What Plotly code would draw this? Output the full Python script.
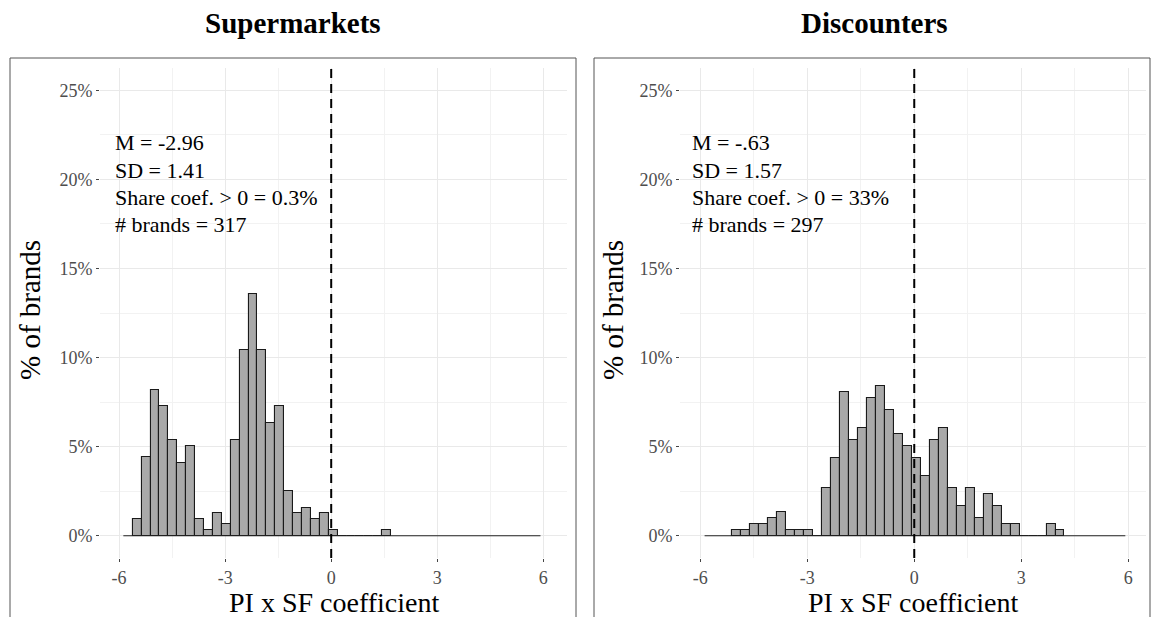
import plotly.graph_objects as go

# ---- data -----------------------------------------------------------------
BIN_WIDTH = 0.252
BIN_ORIGIN = -0.07          # one bin edge; all other edges are spaced BIN_WIDTH apart

# Supermarkets: counts per bin, first bin index -22
super_first_bin = -22
super_counts = [3, 14, 26, 23, 17, 13, 16, 3, 1, 4, 2, 17, 33, 43, 33, 20, 23, 8,
                4, 5, 3, 4, 1, 0, 0, 0, 0, 0, 1]
super_n = 317
super_stats = ["M = -2.96", "SD = 1.41", "Share coef. > 0 = 0.3%", "# brands = 317"]

# Discounters: counts per bin, first bin index -20
disc_first_bin = -20
disc_counts = [1, 1, 2, 2, 3, 4, 1, 1, 1, 0, 8, 13, 24, 16, 18, 23, 25, 21, 17, 15,
               13, 10, 16, 18, 8, 5, 8, 3, 7, 5, 2, 2, 0, 0, 0, 2, 1]
disc_n = 297
disc_stats = ["M = -.63", "SD = 1.57", "Share coef. > 0 = 33%", "# brands = 297"]

panel_titles = ["Supermarkets", "Discounters"]
x_title = "PI x SF coefficient"
y_title = "% of brands"
x_ticks = [-6, -3, 0, 3, 6]
x_tick_text = ["-6", "-3", "0", "3", "6"]
x_minor = [-4.5, -1.5, 1.5, 4.5]
y_ticks = [0, 5, 10, 15, 20, 25]
y_tick_text = ["0%", "5%", "10%", "15%", "20%", "25%"]
y_minor = [2.5, 7.5, 12.5, 17.5, 22.5]
baseline_extent = [-5.88, 5.92]

# ---- geometry (pixels) ----------------------------------------------------
W, H = 1151, 617
FONT = "Liberation Serif"


def px(x):
    return x / W


def py(y):
    return 1 - y / H


panels = [
    dict(counts=super_counts, first=super_first_bin, n=super_n, stats=super_stats,
         plot_x=(100, 567), xrange=[-6.54, 6.67], box=(10, 576), title_x=293,
         ytitle_x=30, stats_x=113),
    dict(counts=disc_counts, first=disc_first_bin, n=disc_n, stats=disc_stats,
         plot_x=(680, 1146), xrange=[-6.57, 6.50], box=(594, 1150), title_x=874,
         ytitle_x=613, stats_x=690),
]
PLOT_TOP, PLOT_BOTTOM = 68, 558
YRANGE = [-1.25, 26.25]

fig = go.Figure()
shapes, annotations = [], []
layout_axes = {}

for i, (p, title) in enumerate(zip(panels, panel_titles)):
    sfx = "" if i == 0 else str(i + 1)
    xa, ya = "x" + sfx, "y" + sfx

    centers = [BIN_ORIGIN + BIN_WIDTH * (p["first"] + j + 0.5) for j in range(len(p["counts"]))]
    pct = [c / p["n"] * 100 for c in p["counts"]]

    # baseline spanning the full binned range
    fig.add_trace(go.Scatter(x=baseline_extent, y=[0, 0], mode="lines",
                             line=dict(color="#222222", width=1.2),
                             xaxis=xa, yaxis=ya, showlegend=False, hoverinfo="skip"))
    fig.add_trace(go.Bar(x=centers, y=pct, width=BIN_WIDTH,
                         marker=dict(color="#a9a9a9", line=dict(color="#1a1a1a", width=1.1)),
                         xaxis=xa, yaxis=ya, showlegend=False))

    axis_common = dict(showline=False, zeroline=False, ticks="outside", ticklen=3,
                       tickcolor="#444444", tickwidth=1,
                       tickfont=dict(family=FONT, size=18, color="#4d4d4d"),
                       gridcolor="#e9e9e9", gridwidth=1, fixedrange=True)
    layout_axes["xaxis" + sfx] = dict(
        axis_common, domain=[px(p["plot_x"][0]), px(p["plot_x"][1])], range=p["xrange"],
        tickvals=x_ticks, ticktext=x_tick_text, anchor=ya,
        minor=dict(tickvals=x_minor, showgrid=True, gridcolor="#f2f2f2", gridwidth=1, ticks=""))
    layout_axes["yaxis" + sfx] = dict(
        axis_common, domain=[py(PLOT_BOTTOM), py(PLOT_TOP)], range=YRANGE,
        tickvals=y_ticks, ticktext=y_tick_text, anchor=xa,
        minor=dict(tickvals=y_minor, showgrid=True, gridcolor="#f2f2f2", gridwidth=1, ticks=""))

    # dashed reference line at zero
    shapes.append(dict(type="line", xref=xa, yref=ya + " domain", x0=0, x1=0, y0=0, y1=1,
                       line=dict(color="black", width=2, dash="9px,6px")))
    # panel frame
    shapes.append(dict(type="rect", xref="paper", yref="paper",
                       x0=px(p["box"][0]), x1=px(p["box"][1]), y0=py(620), y1=py(58),
                       line=dict(color="#555555", width=1), fillcolor="rgba(0,0,0,0)"))

    annotations.append(dict(text=f"<b>{title}</b>", xref="paper", yref="paper",
                            x=px(p["title_x"]), y=py(23), showarrow=False,
                            xanchor="center", yanchor="middle",
                            font=dict(family=FONT, size=29, color="black")))
    annotations.append(dict(text=x_title, xref="paper", yref="paper",
                            x=px(sum(p["plot_x"]) / 2), y=py(602), showarrow=False,
                            xanchor="center", yanchor="middle",
                            font=dict(family=FONT, size=28, color="black")))
    annotations.append(dict(text=y_title, xref="paper", yref="paper", textangle=-90,
                            x=px(p["ytitle_x"]), y=py(310), showarrow=False,
                            xanchor="center", yanchor="middle",
                            font=dict(family=FONT, size=29, color="black")))
    for k, line in enumerate(p["stats"]):
        annotations.append(dict(text=line, xref="paper", yref="paper",
                                x=px(p["stats_x"]), y=py(143 + 27 * k), showarrow=False,
                                xanchor="left", yanchor="middle",
                                font=dict(family=FONT, size=22, color="black")))

fig.update_layout(
    width=W, height=H, margin=dict(l=0, r=0, t=0, b=0),
    paper_bgcolor="white", plot_bgcolor="white",
    bargap=0, shapes=shapes, annotations=annotations, **layout_axes)

fig.write_html("out.html", config={"displayModeBar": False})
